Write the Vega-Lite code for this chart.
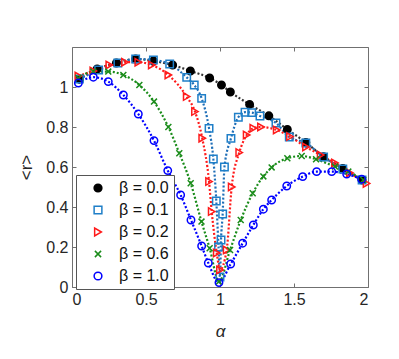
{
  "$schema": "https://vega.github.io/schema/vega-lite/v6.json",
  "autosize": "none",
  "width": 296,
  "height": 240,
  "padding": {"left": 72, "top": 47, "right": 31, "bottom": 72},
  "background": "white",
  "data": {"values": [
    {"beta":"0.0","alpha":0.05,"r":1.04},
    {"beta":"0.0","alpha":0.17,"r":1.09},
    {"beta":"0.0","alpha":0.30,"r":1.12},
    {"beta":"0.0","alpha":0.43,"r":1.14},
    {"beta":"0.0","alpha":0.55,"r":1.13},
    {"beta":"0.0","alpha":0.68,"r":1.11},
    {"beta":"0.0","alpha":0.80,"r":1.08},
    {"beta":"0.0","alpha":0.93,"r":1.045},
    {"beta":"0.0","alpha":1.01,"r":1.01},
    {"beta":"0.0","alpha":1.07,"r":0.975},
    {"beta":"0.0","alpha":1.20,"r":0.913},
    {"beta":"0.0","alpha":1.33,"r":0.856},
    {"beta":"0.0","alpha":1.455,"r":0.788},
    {"beta":"0.0","alpha":1.58,"r":0.723},
    {"beta":"0.0","alpha":1.70,"r":0.651},
    {"beta":"0.0","alpha":1.83,"r":0.593},
    {"beta":"0.0","alpha":1.96,"r":0.535},

    {"beta":"0.1","alpha":0.05,"r":1.04},
    {"beta":"0.1","alpha":0.18,"r":1.085},
    {"beta":"0.1","alpha":0.31,"r":1.12},
    {"beta":"0.1","alpha":0.43,"r":1.14},
    {"beta":"0.1","alpha":0.55,"r":1.135},
    {"beta":"0.1","alpha":0.66,"r":1.115},
    {"beta":"0.1","alpha":0.775,"r":1.048},
    {"beta":"0.1","alpha":0.826,"r":1.01},
    {"beta":"0.1","alpha":0.876,"r":0.943},
    {"beta":"0.1","alpha":0.926,"r":0.793},
    {"beta":"0.1","alpha":0.955,"r":0.64},
    {"beta":"0.1","alpha":0.975,"r":0.43},
    {"beta":"0.1","alpha":0.99,"r":0.2},
    {"beta":"0.1","alpha":1.0,"r":0.05},
    {"beta":"0.1","alpha":1.007,"r":0.235},
    {"beta":"0.1","alpha":1.018,"r":0.365},
    {"beta":"0.1","alpha":1.03,"r":0.6},
    {"beta":"0.1","alpha":1.074,"r":0.743},
    {"beta":"0.1","alpha":1.124,"r":0.849},
    {"beta":"0.1","alpha":1.169,"r":0.874},
    {"beta":"0.1","alpha":1.214,"r":0.872},
    {"beta":"0.1","alpha":1.27,"r":0.855},
    {"beta":"0.1","alpha":1.378,"r":0.82},
    {"beta":"0.1","alpha":1.468,"r":0.75},
    {"beta":"0.1","alpha":1.58,"r":0.72},
    {"beta":"0.1","alpha":1.70,"r":0.65},
    {"beta":"0.1","alpha":1.83,"r":0.59},
    {"beta":"0.1","alpha":1.96,"r":0.535},

    {"beta":"0.2","alpha":0.043,"r":1.055},
    {"beta":"0.2","alpha":0.144,"r":1.08},
    {"beta":"0.2","alpha":0.252,"r":1.11},
    {"beta":"0.2","alpha":0.358,"r":1.124},
    {"beta":"0.2","alpha":0.448,"r":1.124},
    {"beta":"0.2","alpha":0.539,"r":1.11},
    {"beta":"0.2","alpha":0.651,"r":1.06},
    {"beta":"0.2","alpha":0.775,"r":0.952},
    {"beta":"0.2","alpha":0.831,"r":0.877},
    {"beta":"0.2","alpha":0.88,"r":0.744},
    {"beta":"0.2","alpha":0.926,"r":0.527},
    {"beta":"0.2","alpha":0.944,"r":0.377},
    {"beta":"0.2","alpha":0.978,"r":0.17},
    {"beta":"0.2","alpha":1.0,"r":0.085},
    {"beta":"0.2","alpha":1.045,"r":0.185},
    {"beta":"0.2","alpha":1.079,"r":0.5},
    {"beta":"0.2","alpha":1.13,"r":0.672},
    {"beta":"0.2","alpha":1.18,"r":0.76},
    {"beta":"0.2","alpha":1.225,"r":0.794},
    {"beta":"0.2","alpha":1.277,"r":0.8},
    {"beta":"0.2","alpha":1.383,"r":0.785},
    {"beta":"0.2","alpha":1.473,"r":0.752},
    {"beta":"0.2","alpha":1.581,"r":0.70},
    {"beta":"0.2","alpha":1.68,"r":0.66},
    {"beta":"0.2","alpha":1.777,"r":0.62},
    {"beta":"0.2","alpha":1.878,"r":0.57},
    {"beta":"0.2","alpha":1.99,"r":0.518},

    {"beta":"0.6","alpha":0.043,"r":1.045},
    {"beta":"0.6","alpha":0.144,"r":1.077},
    {"beta":"0.6","alpha":0.245,"r":1.077},
    {"beta":"0.6","alpha":0.347,"r":1.06},
    {"beta":"0.6","alpha":0.455,"r":1.01},
    {"beta":"0.6","alpha":0.554,"r":0.927},
    {"beta":"0.6","alpha":0.651,"r":0.8},
    {"beta":"0.6","alpha":0.725,"r":0.669},
    {"beta":"0.6","alpha":0.802,"r":0.519},
    {"beta":"0.6","alpha":0.875,"r":0.327},
    {"beta":"0.6","alpha":0.93,"r":0.194},
    {"beta":"0.6","alpha":0.993,"r":0.027},
    {"beta":"0.6","alpha":1.068,"r":0.185},
    {"beta":"0.6","alpha":1.14,"r":0.335},
    {"beta":"0.6","alpha":1.221,"r":0.469},
    {"beta":"0.6","alpha":1.293,"r":0.553},
    {"beta":"0.6","alpha":1.349,"r":0.598},
    {"beta":"0.6","alpha":1.455,"r":0.644},
    {"beta":"0.6","alpha":1.552,"r":0.655},
    {"beta":"0.6","alpha":1.649,"r":0.639},
    {"beta":"0.6","alpha":1.777,"r":0.602},
    {"beta":"0.6","alpha":1.867,"r":0.577},
    {"beta":"0.6","alpha":1.968,"r":0.535},

    {"beta":"1.0","alpha":0.043,"r":1.02},
    {"beta":"1.0","alpha":0.144,"r":1.049},
    {"beta":"1.0","alpha":0.245,"r":1.027},
    {"beta":"1.0","alpha":0.347,"r":0.96},
    {"beta":"1.0","alpha":0.448,"r":0.865},
    {"beta":"1.0","alpha":0.554,"r":0.732},
    {"beta":"1.0","alpha":0.647,"r":0.582},
    {"beta":"1.0","alpha":0.734,"r":0.46},
    {"beta":"1.0","alpha":0.804,"r":0.335},
    {"beta":"1.0","alpha":0.876,"r":0.205},
    {"beta":"1.0","alpha":0.921,"r":0.12},
    {"beta":"1.0","alpha":0.993,"r":0.022},
    {"beta":"1.0","alpha":1.072,"r":0.115},
    {"beta":"1.0","alpha":1.153,"r":0.219},
    {"beta":"1.0","alpha":1.225,"r":0.31},
    {"beta":"1.0","alpha":1.293,"r":0.389},
    {"beta":"1.0","alpha":1.349,"r":0.435},
    {"beta":"1.0","alpha":1.451,"r":0.505},
    {"beta":"1.0","alpha":1.559,"r":0.552},
    {"beta":"1.0","alpha":1.653,"r":0.577},
    {"beta":"1.0","alpha":1.755,"r":0.577},
    {"beta":"1.0","alpha":1.856,"r":0.565},
    {"beta":"1.0","alpha":1.957,"r":0.539}
  ]},
  "layer": [
    {
      "mark": {"type": "line", "strokeDash": [2, 2], "strokeWidth": 2.2, "interpolate": "monotone"},
      "encoding": {
        "x": {"field": "alpha", "type": "quantitative", "scale": {"domain": [0, 2], "nice": false},
              "axis": {"orient": "top", "labels": false, "title": null, "values": [0, 0.5, 1, 1.5, 2], "tickSize": -4}},
        "y": {"field": "r", "type": "quantitative", "scale": {"domain": [0, 1.2], "nice": false},
              "axis": {"orient": "right", "labels": false, "title": null, "values": [0, 0.2, 0.4, 0.6, 0.8, 1], "tickSize": -4}},
        "color": {"field": "beta", "type": "nominal", "legend": null,
                  "scale": {"domain": ["1.0", "0.6", "0.2", "0.1", "0.0"], "range": ["#0000ff", "#1a8c1a", "#ff1a1a", "#1f6fb8", "#333333"]}}
      }
    },
    {
      "mark": {"type": "point", "size": 55, "strokeWidth": 1.5, "opacity": 1},
      "encoding": {
        "x": {"field": "alpha", "type": "quantitative",
              "axis": {"orient": "bottom", "title": "α", "titleFontStyle": "italic", "titlePadding": 16, "values": [0, 0.5, 1, 1.5, 2], "format": "~g", "tickSize": -4}},
        "y": {"field": "r", "type": "quantitative",
              "axis": {"orient": "left", "title": "<r>", "titlePadding": 10, "values": [0, 0.2, 0.4, 0.6, 0.8, 1], "format": "~g", "tickSize": -4}},
        "stroke": {"field": "beta", "type": "nominal",
                   "scale": {"domain": ["0.0", "0.1", "0.2", "0.6", "1.0"], "range": ["#000000", "#1f7fc8", "#ff1a1a", "#1a8c1a", "#0000ff"]},
                   "legend": {"title": null, "orient": "none", "legendX": 4, "legendY": 128, "labelExpr": "'β = ' + datum.label"}},
        "fill": {"field": "beta", "type": "nominal",
                 "scale": {"domain": ["0.0", "0.1", "0.2", "0.6", "1.0"], "range": ["#000000", "transparent", "transparent", "transparent", "transparent"]},
                 "legend": {"title": null, "orient": "none", "legendX": 4, "legendY": 128, "labelExpr": "'β = ' + datum.label"}},
        "shape": {"field": "beta", "type": "nominal",
                  "scale": {"domain": ["0.0", "0.1", "0.2", "0.6", "1.0"], "range": ["circle", "square", "triangle-right", "M-0.8,-0.8L0.8,0.8M-0.8,0.8L0.8,-0.8", "circle"]},
                  "legend": {"title": null, "orient": "none", "legendX": 4, "legendY": 128, "labelExpr": "'β = ' + datum.label"}}
      }
    }
  ],
  "resolve": {"axis": {"x": "independent", "y": "independent"}},
  "config": {
    "view": {"stroke": null},
    "font": "Liberation Sans",
    "axis": {"grid": false, "domainColor": "#707070", "tickColor": "#707070", "labelColor": "#262626", "titleColor": "#262626",
             "labelFontSize": 16, "titleFontSize": 17, "titleFontWeight": "normal", "labelPadding": 8},
    "legend": {"strokeColor": "#555", "fillColor": "white", "padding": 5,
               "labelFontSize": 16, "labelColor": "#111", "symbolSize": 60, "symbolStrokeWidth": 1.5, "rowPadding": 6,
               "symbolOffset": 9, "labelOffset": 13}
  }
}
